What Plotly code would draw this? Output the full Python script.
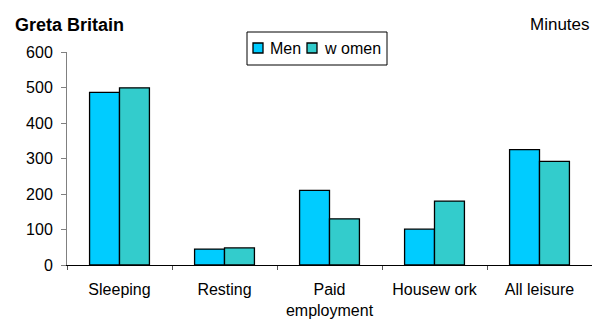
import plotly.graph_objects as go

categories = ["Sleeping", "Resting", "Paid<br>employment", "Housew ork", "All leisure"]
men = [486, 45, 210, 101, 325]
women = [499, 48, 130, 180, 292]
y_ticks = [0, 100, 200, 300, 400, 500, 600]
series_names = ["Men", "w omen"]
series_colors = ["#00CCFF", "#33CCCC"]

FONT = "Liberation Sans, Arial, sans-serif"
W, H = 592, 320
L, R, T, B = 67, 0, 52, 55
PW, PH = W - L - R, H - T - B


def px(x):
    return (x - L) / PW


def py(y):
    return (H - B - y) / PH


fig = go.Figure()
for name, vals, col in zip(series_names, [men, women], series_colors):
    fig.add_trace(go.Bar(name=name, x=categories, y=vals,
                         marker=dict(color=col, line=dict(color="black", width=1.3))))

shapes = [
    dict(type="rect", xref="paper", yref="paper", x0=px(247), x1=px(387), y0=py(65), y1=py(32),
         line=dict(color="black", width=1), fillcolor="white", layer="above"),
]
annotations = [
    dict(text="<b>Greta Britain</b>", xref="paper", yref="paper", x=px(13), y=py(25),
         xanchor="left", yanchor="middle", showarrow=False, font=dict(size=18)),
    dict(text="Minutes", xref="paper", yref="paper", x=px(592), y=py(25),
         xanchor="right", yanchor="middle", showarrow=False, font=dict(size=17)),
]
leg_sq = [(253, 263), (307, 317)]
leg_tx = [268, 322]
for (sx0, sx1), tx, name, col in zip(leg_sq, leg_tx, series_names, series_colors):
    shapes.append(dict(type="rect", xref="paper", yref="paper", x0=px(sx0), x1=px(sx1),
                       y0=py(53), y1=py(43), line=dict(color="black", width=1.3),
                       fillcolor=col, layer="above"))
    annotations.append(dict(text=name, xref="paper", yref="paper", x=px(tx), y=py(48.5),
                            xanchor="left", yanchor="middle", showarrow=False,
                            font=dict(size=16)))

fig.update_layout(
    width=W, height=H,
    margin=dict(l=L, r=R, t=T, b=B),
    paper_bgcolor="white", plot_bgcolor="white",
    barmode="group", bargap=0.43, bargroupgap=0,
    font=dict(family=FONT, size=16, color="black"),
    showlegend=False,
    xaxis=dict(showline=True, linecolor="black", linewidth=1,
               ticks="outside", tickson="boundaries", ticklen=4, tickcolor="#555555",
               ticklabelstandoff=10,
               tickfont=dict(size=16), showgrid=False),
    yaxis=dict(range=[0, 600], tickvals=y_ticks, showline=True, linecolor="#808080",
               linewidth=1, ticks="outside", ticklen=5, tickcolor="#808080",
               ticklabelstandoff=5,
               showgrid=False, zeroline=False, tickfont=dict(size=16)),
    shapes=shapes,
    annotations=annotations,
)

fig.write_html("out.html")
